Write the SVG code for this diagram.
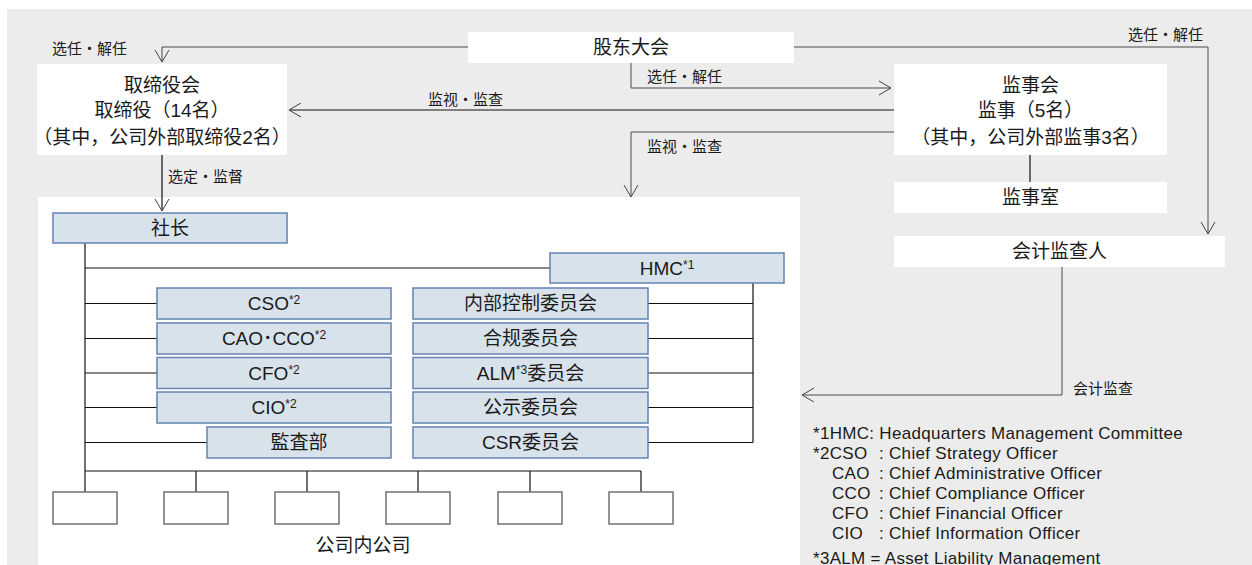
<svg xmlns="http://www.w3.org/2000/svg" width="1252" height="565" viewBox="0 0 1252 565">
<defs>
<style>
text{font-family:"Liberation Sans","Noto Sans CJK SC",sans-serif;fill:#1a1a1a}
.bt{font-size:19px;text-anchor:middle}
.lb{font-size:15px}
.fn{font-size:17px;letter-spacing:0.3px}
.wb{fill:#fff;stroke:none}
.bb{fill:#d8e2ea;stroke:#6383b3;stroke-width:1.5}
.sb{fill:#fff;stroke:#707070;stroke-width:1.5}
.cg{fill:none;stroke:#4a4a4a;stroke-width:1}
.ck{fill:none;stroke:#111;stroke-width:1.2}
.sup{font-size:12px}
</style>
<marker id="arr" viewBox="-1 -8 14 16" markerWidth="14" markerHeight="16" refX="12" refY="0" orient="auto" markerUnits="userSpaceOnUse">
<path d="M0,-7 L12,0 L0,7" fill="none" stroke="#444" stroke-width="1"/>
</marker>
</defs>
<rect x="7" y="9" width="1245" height="556" fill="#ececec"/>
<rect x="38" y="197" width="762" height="368" fill="#fff"/>

<g id="connectors">
<path class="cg" d="M468,47 H162 V62" marker-end="url(#arr)"/>
<path class="cg" d="M794,47 H1208 V234" marker-end="url(#arr)"/>
<path class="cg" d="M631,63 V88 H891" marker-end="url(#arr)"/>
<path class="ck" d="M894,110 H289" marker-end="url(#arr)"/>
<path class="cg" d="M894,132 H631 V197" marker-end="url(#arr)"/>
<path class="ck" d="M162,155 V211" marker-end="url(#arr)"/>
<path class="ck" d="M1030,155 V182"/>
<path class="cg" d="M1062,267 V395 H802" marker-end="url(#arr)"/>
<path class="ck" d="M85,243 V492 M85,268 H550 M85,303.5 H157 M85,338.5 H157 M85,373 H157 M85,407.5 H157 M85,442.5 H207"/>
<path class="ck" d="M753,283 V442.5 M648,303.5 H753 M648,338.5 H753 M648,373 H753 M648,407.5 H753 M648,442.5 H753"/>
<path class="ck" d="M85,471 H641 M196,471 V492 M307,471 V492 M418,471 V492 M530,471 V492 M641,471 V492"/>
</g>

<g id="labels">
<text class="lb" x="52" y="54">选任・解任</text>
<text class="lb" x="1128" y="39.5">选任・解任</text>
<text class="lb" x="647" y="82">选任・解任</text>
<text class="lb" x="428" y="104.5">监视・监查</text>
<text class="lb" x="647" y="151.5">监视・监查</text>
<text class="lb" x="168" y="182">选定・监督</text>
<text class="lb" x="1073" y="393.5">会计监查</text>
</g>

<g id="n-shareholders"><rect class="wb" x="468" y="32" width="326" height="31"/><text class="bt" x="631" y="54">股东大会</text></g>
<g id="n-board"><rect class="wb" x="37" y="64" width="250" height="91"/>
<text class="bt" x="162" y="91.5">取缔役会</text>
<text class="bt" x="162" y="117">取缔役（14名）</text>
<text class="bt" x="162" y="143.5">（其中，公司外部取缔役2名）</text></g>
<g id="n-auditors"><rect class="wb" x="894" y="64" width="273" height="91"/>
<text class="bt" x="1030.5" y="91.5">监事会</text>
<text class="bt" x="1030.5" y="117">监事（5名）</text>
<text class="bt" x="1030.5" y="143.5">（其中，公司外部监事3名）</text></g>
<g id="n-audit-office"><rect class="wb" x="894" y="182" width="273" height="31"/><text class="bt" x="1030.5" y="204">监事室</text></g>
<g id="n-accounting-auditor"><rect class="wb" x="894" y="236" width="331" height="31"/><text class="bt" x="1059.5" y="258">会计监查人</text></g>

<g id="n-president"><rect class="bb" x="53" y="213" width="234" height="30"/><text class="bt" x="170" y="234.5">社长</text></g>
<g id="n-hmc"><rect class="bb" x="550" y="253" width="234" height="30"/><text class="bt" x="667" y="274.5">HMC<tspan class="sup" dy="-6">*1</tspan></text></g>

<g id="n-cso"><rect class="bb" x="157" y="288" width="234" height="31"/><text class="bt" x="274" y="310">CSO<tspan class="sup" dy="-6">*2</tspan></text></g>
<g id="n-cao"><rect class="bb" x="157" y="323" width="234" height="31"/><text class="bt" x="274" y="345">CAO･CCO<tspan class="sup" dy="-6">*2</tspan></text></g>
<g id="n-cfo"><rect class="bb" x="157" y="357.5" width="234" height="31"/><text class="bt" x="274" y="379.5">CFO<tspan class="sup" dy="-6">*2</tspan></text></g>
<g id="n-cio"><rect class="bb" x="157" y="392" width="234" height="31"/><text class="bt" x="274" y="414">CIO<tspan class="sup" dy="-6">*2</tspan></text></g>
<g id="n-audit-dept"><rect class="bb" x="207" y="427" width="184" height="31"/><text class="bt" x="299" y="449">監査部</text></g>

<g id="n-internal-control"><rect class="bb" x="413" y="288" width="235" height="31"/><text class="bt" x="530.5" y="310">内部控制委员会</text></g>
<g id="n-compliance"><rect class="bb" x="413" y="323" width="235" height="31"/><text class="bt" x="530.5" y="345">合规委员会</text></g>
<g id="n-alm"><rect class="bb" x="413" y="357.5" width="235" height="31"/><text class="bt" x="530.5" y="379.5">ALM<tspan class="sup" dy="-6">*3</tspan><tspan dy="6">委员会</tspan></text></g>
<g id="n-disclosure"><rect class="bb" x="413" y="392" width="235" height="31"/><text class="bt" x="530.5" y="414">公示委员会</text></g>
<g id="n-csr"><rect class="bb" x="413" y="427" width="235" height="31"/><text class="bt" x="530.5" y="449">CSR委员会</text></g>

<g id="n-companies">
<rect class="sb" x="53" y="492" width="64" height="32"/>
<rect class="sb" x="164" y="492" width="64" height="32"/>
<rect class="sb" x="275" y="492" width="64" height="32"/>
<rect class="sb" x="386" y="492" width="64" height="32"/>
<rect class="sb" x="498" y="492" width="64" height="32"/>
<rect class="sb" x="609" y="492" width="64" height="32"/>
<text class="bt" x="363" y="551.5">公司内公司</text>
</g>

<g id="footnotes">
<text class="fn" x="813" y="439">*1HMC: Headquarters Management Committee</text>
<text class="fn" x="813" y="459">*2CSO</text><text class="fn" x="879" y="459">: Chief Strategy Officer</text>
<text class="fn" x="832" y="479">CAO</text><text class="fn" x="879" y="479">: Chief Administrative Officer</text>
<text class="fn" x="832" y="499">CCO</text><text class="fn" x="879" y="499">: Chief Compliance Officer</text>
<text class="fn" x="832" y="519">CFO</text><text class="fn" x="879" y="519">: Chief Financial Officer</text>
<text class="fn" x="832" y="539">CIO</text><text class="fn" x="879" y="539">: Chief Information Officer</text>
<text class="fn" x="813" y="564">*3ALM = Asset Liability Management</text>
</g>
</svg>
